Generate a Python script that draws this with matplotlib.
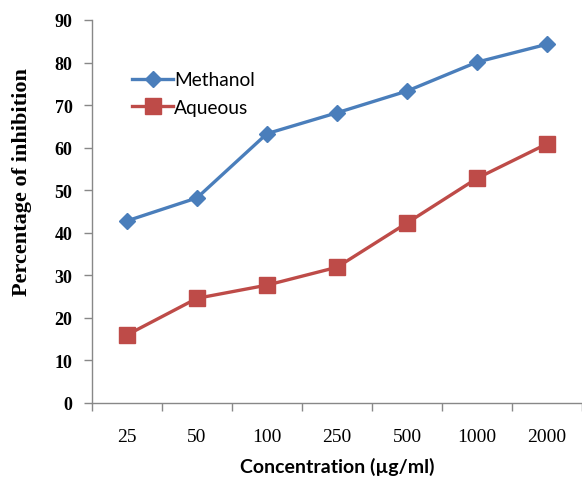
import matplotlib
matplotlib.use("Agg")
import matplotlib.pyplot as plt

categories = ["25", "50", "100", "250", "500", "1000", "2000"]
methanol = [42.8, 48.2, 63.3, 68.2, 73.3, 80.1, 84.3]
aqueous = [16.0, 24.6, 27.7, 31.9, 42.3, 52.8, 60.9]
yticks = [0, 10, 20, 30, 40, 50, 60, 70, 80, 90]

fig = plt.figure(figsize=(5.82, 4.81), dpi=100)
ax = fig.add_axes([92/582, 1-404/481, 1-92/582, (404-21)/481])

x = list(range(len(categories)))
ax.plot(x, methanol, color="#4A7EBB", lw=2.4, marker="D", ms=8, label="Methanol")
ax.plot(x, aqueous, color="#BE4B48", lw=2.4, marker="s", ms=11, label="Aqueous")

ax.set_xlim(-0.5, len(categories)-0.5)
ax.set_ylim(0, 90)
ax.set_yticks(yticks)
ax.set_yticklabels([str(v) for v in yticks], fontfamily="Liberation Serif", fontweight="bold", fontsize=13)
ax.set_xticks(x)
ax.set_xticklabels(categories, fontfamily="Liberation Serif", fontsize=14)
ax.set_xticks([i - 0.5 for i in range(len(categories)+1)], minor=True)
ax.tick_params(axis="x", which="major", length=0, pad=18)
ax.tick_params(axis="x", which="minor", length=6, color="#888888", width=1)
ax.tick_params(axis="y", length=6, color="#888888", width=1, pad=8)

for s in ["top", "right"]:
    ax.spines[s].set_visible(False)
for s in ["left", "bottom"]:
    ax.spines[s].set_color("#888888")
    ax.spines[s].set_linewidth(1)

ax.set_ylabel("Percentage of inhibition", fontfamily="Liberation Serif", fontweight="bold", fontsize=16)
ax.yaxis.label.set_va("center")
ax.yaxis.set_label_coords(-(92-22)/490, (404-182)/383)
ax.set_xlabel("Concentration (µg/ml)", fontfamily="Lato", fontweight="bold", fontsize=14)
ax.xaxis.set_label_coords(0.5, -(467-404)/383)
ax.xaxis.label.set_va("center")

leg = ax.legend(loc="upper left", bbox_to_anchor=(0.082, 0.866), frameon=False,
                prop={"family": "Lato", "size": 13.8}, handlelength=2.15, handletextpad=0.05,
                labelspacing=0.55, borderaxespad=0, borderpad=0)

fig.savefig("out.png", dpi=100)
